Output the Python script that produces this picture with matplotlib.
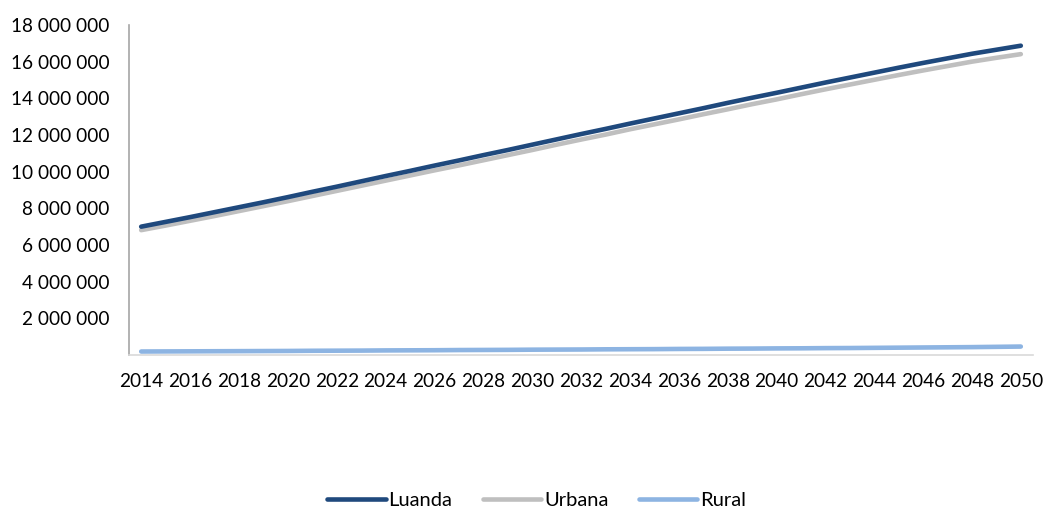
import matplotlib
matplotlib.use("Agg")
import matplotlib.pyplot as plt
from matplotlib.ticker import FuncFormatter

plt.rcParams["font.family"] = ["Lato", "DejaVu Sans"]

# population projections, millions
years = list(range(2014, 2051))
luanda = [7.00, 7.26, 7.52, 7.79, 8.06, 8.33, 8.61, 8.90, 9.18, 9.47,
          9.76, 10.04, 10.33, 10.61, 10.90, 11.18, 11.47, 11.76, 12.05, 12.33,
          12.62, 12.90, 13.18, 13.46, 13.75, 14.03, 14.30, 14.58, 14.86, 15.13,
          15.40, 15.67, 15.93, 16.18, 16.43, 16.65, 16.87]
urbana = [6.81, 7.06, 7.32, 7.58, 7.85, 8.12, 8.39, 8.67, 8.95, 9.23,
          9.51, 9.79, 10.07, 10.34, 10.62, 10.90, 11.18, 11.47, 11.75, 12.02,
          12.31, 12.58, 12.85, 13.13, 13.40, 13.68, 13.94, 14.22, 14.49, 14.75,
          15.01, 15.27, 15.52, 15.76, 16.00, 16.21, 16.41]
rural = [0.19, 0.195, 0.20, 0.205, 0.21, 0.215, 0.22, 0.23, 0.235, 0.24,
         0.25, 0.255, 0.26, 0.27, 0.275, 0.28, 0.29, 0.295, 0.30, 0.31,
         0.315, 0.32, 0.33, 0.335, 0.345, 0.35, 0.36, 0.365, 0.375, 0.38,
         0.39, 0.40, 0.41, 0.42, 0.43, 0.445, 0.46]
y_ticks = [2, 4, 6, 8, 10, 12, 14, 16, 18]

fig = plt.figure(figsize=(10.46, 5.13), dpi=100)
ax = fig.add_axes([0.1233, 0.308, 0.8643, 0.6433])

x = list(range(len(years)))
ax.plot(x, [v * 1e6 for v in luanda], color="#1F497D", lw=3.3,
        solid_capstyle="round", label="Luanda", zorder=3)
ax.plot(x, [v * 1e6 for v in urbana], color="#BFBFBF", lw=3.3,
        solid_capstyle="round", label="Urbana", zorder=2)
ax.plot(x, [v * 1e6 for v in rural], color="#8DB4E2", lw=3.3,
        solid_capstyle="round", label="Rural", zorder=2)

ax.set_xlim(-0.5, len(years) - 0.5)
ax.set_ylim(0, 18e6)
ax.set_yticks([t * 1e6 for t in y_ticks])
ax.yaxis.set_major_formatter(FuncFormatter(lambda v, p: f"{int(round(v)):,}".replace(",", " ")))
ax.set_xticks(x[::2])
ax.set_xticklabels([str(y) for y in years[::2]])

for s in ("top", "right"):
    ax.spines[s].set_visible(False)
ax.spines["left"].set_color("#A6A6A6")
ax.spines["bottom"].set_color("#D9D9D9")
ax.spines["left"].set_linewidth(1.2)
ax.spines["bottom"].set_linewidth(1.2)
ax.tick_params(axis="y", length=0, pad=14, labelsize=13.7)
ax.tick_params(axis="x", length=0, pad=13, labelsize=13.7)

fig.legend(loc="center", bbox_to_anchor=(0.513, 0.025), ncol=3, frameon=False,
           fontsize=14.5, handlelength=2.9, handletextpad=0.15, columnspacing=1.5)

fig.savefig("out.png", dpi=100, facecolor="white")
